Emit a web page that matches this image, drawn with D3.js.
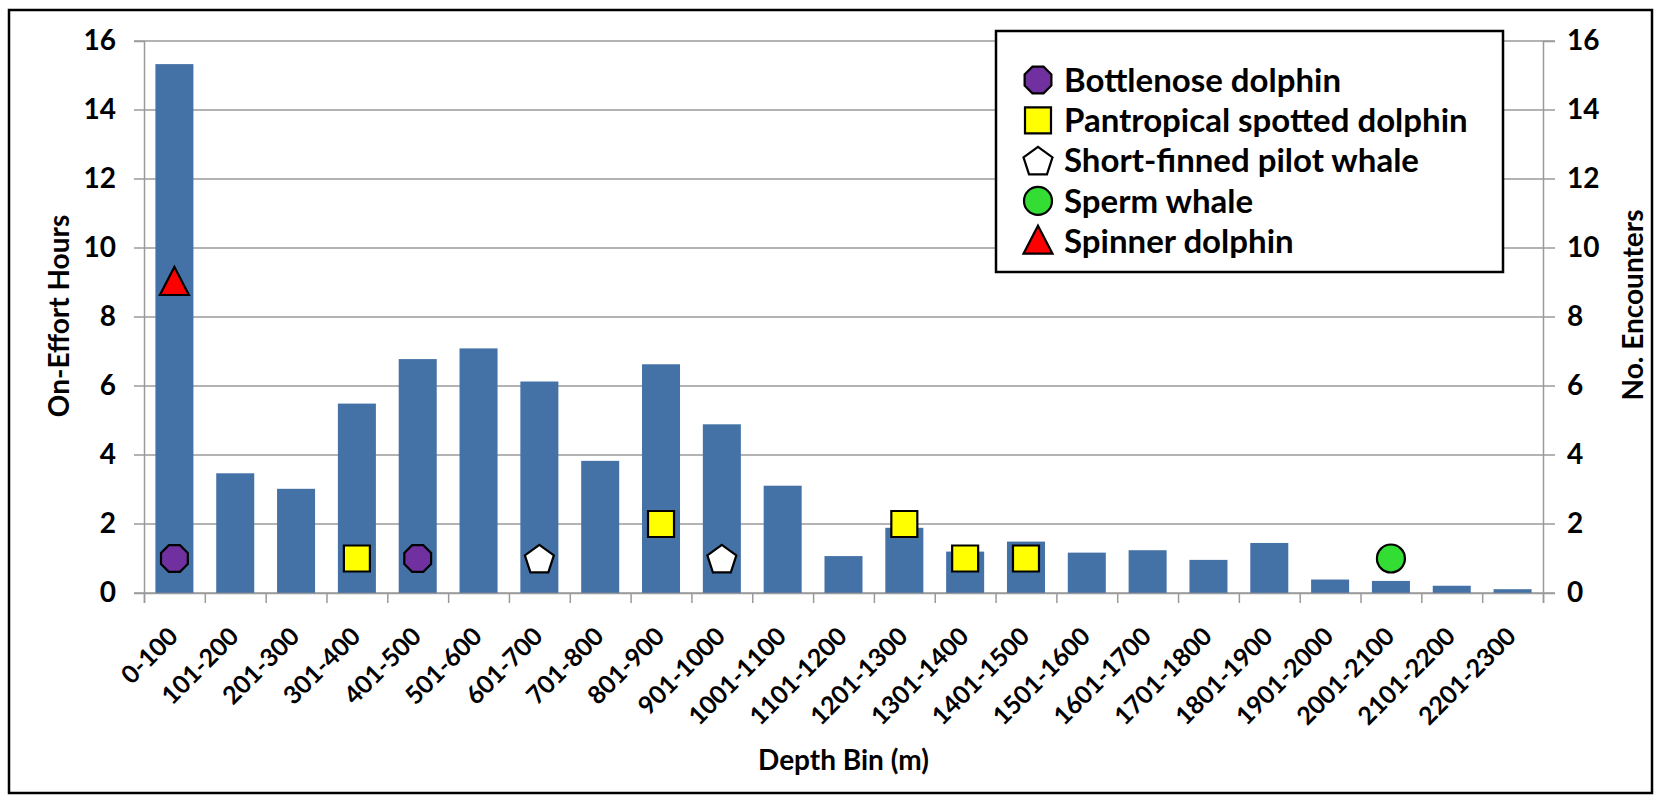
<!DOCTYPE html>
<html>
<head>
<meta charset="utf-8">
<script src="https://cdn.jsdelivr.net/npm/d3@7"></script>
<style>
  body { margin: 0; background: #fff; }
  svg text { font-family: Lato, "Open Sans", sans-serif; font-weight: bold; fill: #000; }
</style>
</head>
<body>
<svg id="chart" width="1663" height="802"></svg>
<script>
// depth bins and on-effort hours (left axis)
var depthBins = ["0-100","101-200","201-300","301-400","401-500","501-600","601-700","701-800",
  "801-900","901-1000","1001-1100","1101-1200","1201-1300","1301-1400","1401-1500","1501-1600",
  "1601-1700","1701-1800","1801-1900","1901-2000","2001-2100","2101-2200","2201-2300"];
var effortHours = [15.33, 3.47, 3.02, 5.49, 6.78, 7.09, 6.13, 3.83, 6.63, 4.89, 3.11, 1.07,
  1.89, 1.20, 1.49, 1.17, 1.24, 0.96, 1.45, 0.39, 0.35, 0.21, 0.11];

// encounters per species (right axis)
var bottlenose  = [["0-100", 1], ["401-500", 1]];
var pantropical = [["301-400", 1], ["801-900", 2], ["1201-1300", 2], ["1301-1400", 1], ["1401-1500", 1]];
var pilotWhale  = [["601-700", 1], ["901-1000", 1]];
var spermWhale  = [["2001-2100", 1]];
var spinner     = [["0-100", 9]];

var yTicks = [0, 2, 4, 6, 8, 10, 12, 14, 16];

// custom marker shapes, size = width in px
function polygon(n, rot) {
  return { draw: function(ctx, size) {
    var r = size / 2;
    for (var i = 0; i < n; i++) {
      var a = rot + i * 2 * Math.PI / n;
      if (i === 0) ctx.moveTo(r * Math.cos(a), r * Math.sin(a));
      else ctx.lineTo(r * Math.cos(a), r * Math.sin(a));
    }
    ctx.closePath();
  }};
}
var octagon = polygon(8, Math.PI / 8);
var pentagon = { draw: function(ctx, size) {
  var r = size / 2 / Math.sin(2 * Math.PI / 5);
  for (var i = 0; i < 5; i++) {
    var a = -Math.PI / 2 + i * 2 * Math.PI / 5;
    var px = r * Math.cos(a), py = r * Math.sin(a) + r * 0.1;
    if (i === 0) ctx.moveTo(px, py); else ctx.lineTo(px, py);
  }
  ctx.closePath();
}};
var square = { draw: function(ctx, size) { var h = size / 2; ctx.rect(-h, -h, size, size); } };
var circle = { draw: function(ctx, size) { var r = size / 2; ctx.moveTo(r, 0); ctx.arc(0, 0, r, 0, 2 * Math.PI); } };
var triangle = { draw: function(ctx, size) {
  var h = size / 2;
  ctx.moveTo(0, -h - 1); ctx.lineTo(h, h - 2); ctx.lineTo(-h, h - 2); ctx.closePath();
}};

var species = [
  { name: "Bottlenose dolphin",          data: bottlenose,  shape: octagon,  fill: "#7030a0", size: 29 },
  { name: "Pantropical spotted dolphin", data: pantropical, shape: square,   fill: "#ffff00", size: 26 },
  { name: "Short-finned pilot whale",    data: pilotWhale,  shape: pentagon, fill: "#ffffff", size: 29 },
  { name: "Sperm whale",                 data: spermWhale,  shape: circle,   fill: "#33dd33", size: 28 },
  { name: "Spinner dolphin",             data: spinner,     shape: triangle, fill: "#ff0000", size: 29 }
];

var svg = d3.select("#chart");

// outer frame
svg.append("rect")
  .attr("x", 9).attr("y", 10).attr("width", 1643).attr("height", 783)
  .attr("fill", "none").attr("stroke", "#000").attr("stroke-width", 2.5);

var margin = {top: 41, left: 144, right: 120, bottom: 209},
    width = 1663 - margin.left - margin.right,
    height = 802 - margin.top - margin.bottom;

var g = svg.append("g").attr("transform", "translate(" + margin.left + "," + margin.top + ")");

var x = d3.scaleBand().domain(depthBins).range([0, width]).paddingInner(0.375).paddingOuter(0.1875);
var xEdge = d3.scaleLinear().domain([0, depthBins.length]).range([0, width]);
var y = d3.scaleLinear().domain([0, 16]).range([height, 0]);
var y2 = d3.scaleLinear().domain([0, 16]).range([height, 0]);

// gridlines
g.append("g").selectAll("line").data(yTicks).enter().append("line")
  .attr("x1", -10).attr("x2", width + 12)
  .attr("y1", function(d) { return y(d); }).attr("y2", function(d) { return y(d); })
  .attr("stroke", "#9a9a9a").attr("stroke-width", 1.5);

// left axis
var left = g.append("g").call(d3.axisLeft(y).tickValues(yTicks).tickSize(10).tickPadding(18));
left.select(".domain").attr("stroke", "#9a9a9a").attr("stroke-width", 1.5);
left.selectAll(".tick line").remove();
left.selectAll("text").style("font-size", "28px");

// right axis
var right = g.append("g").attr("transform", "translate(" + width + ",0)")
  .call(d3.axisRight(y2).tickValues(yTicks).tickSize(12).tickPadding(12));
right.select(".domain").attr("stroke", "#9a9a9a").attr("stroke-width", 1.5);
right.selectAll(".tick line").remove();
right.selectAll("text").style("font-size", "28px");

// bars
g.selectAll(".bar").data(effortHours).enter().append("rect")
  .attr("class", "bar")
  .attr("x", function(d, i) { return x(depthBins[i]); })
  .attr("y", function(d) { return y(d); })
  .attr("width", x.bandwidth())
  .attr("height", function(d) { return height - y(d); })
  .attr("fill", "#4472a7");

// x axis: ticks at bin edges
var bottom = g.append("g").attr("transform", "translate(0," + height + ")")
  .call(d3.axisBottom(xEdge).tickValues(d3.range(depthBins.length + 1)).tickSize(10).tickFormat(""));
bottom.select(".domain").attr("stroke", "#9a9a9a").attr("stroke-width", 1.5);
bottom.selectAll(".tick line").attr("stroke", "#9a9a9a").attr("stroke-width", 1.5);

// rotated bin labels
var labels = g.append("g").attr("transform", "translate(0," + height + ")")
  .call(d3.axisBottom(x).tickSize(0).tickPadding(0));
labels.select(".domain").remove();
labels.selectAll("text")
  .style("font-size", "25px")
  .style("text-anchor", "end")
  .attr("y", 0)
  .attr("dy", 0)
  .attr("transform", "translate(5,45) rotate(-45)");

// markers
species.forEach(function(s) {
  g.selectAll(null).data(s.data).enter().append("path")
    .attr("d", d3.symbol().type(s.shape).size(s.size))
    .attr("transform", function(d) {
      return "translate(" + (x(d[0]) + x.bandwidth() / 2) + "," + y2(d[1]) + ")";
    })
    .attr("fill", s.fill).attr("stroke", "#000").attr("stroke-width", 2.2);
});

// axis titles
svg.append("text")
  .attr("transform", "translate(69,316) rotate(-90)")
  .style("text-anchor", "middle").style("font-size", "28px")
  .text("On-Effort Hours");
svg.append("text")
  .attr("transform", "translate(1643,305) rotate(-90)")
  .style("text-anchor", "middle").style("font-size", "28px")
  .text("No. Encounters");
svg.append("text")
  .attr("x", margin.left + width / 2).attr("y", 770)
  .style("text-anchor", "middle").style("font-size", "28px")
  .text("Depth Bin (m)");

// legend
var legend = svg.append("g").attr("transform", "translate(996,31)");
legend.append("rect")
  .attr("width", 507).attr("height", 241)
  .attr("fill", "#fff").attr("stroke", "#000").attr("stroke-width", 2.5);
var item = legend.selectAll(".item").data(species).enter().append("g")
  .attr("transform", function(d, i) { return "translate(0," + (49 + i * 40.3) + ")"; });
item.append("path")
  .attr("d", function(d) { return d3.symbol().type(d.shape).size(d.size)(); })
  .attr("transform", "translate(42,0)")
  .attr("fill", function(d) { return d.fill; })
  .attr("stroke", "#000").attr("stroke-width", 2.2);
item.append("text")
  .attr("x", 68).attr("dy", "0.36em")
  .style("font-size", "33px")
  .text(function(d) { return d.name; });
</script>
</body>
</html>
